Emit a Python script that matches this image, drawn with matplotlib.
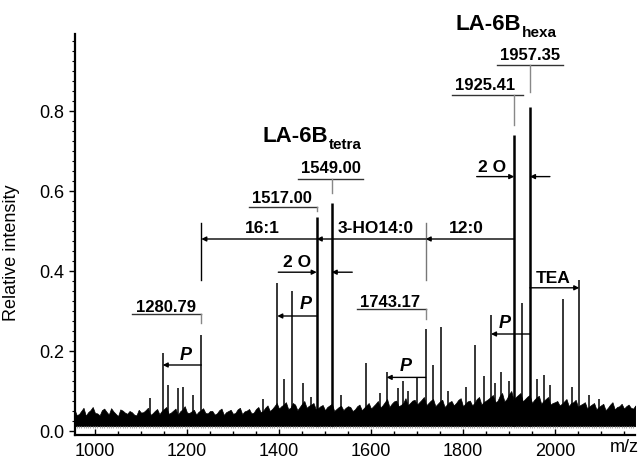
import numpy as np
import matplotlib
matplotlib.use("Agg")
import matplotlib.pyplot as plt
from matplotlib.ticker import MultipleLocator

plt.rcParams['font.family'] = ['Liberation Sans', 'DejaVu Sans']

# ---------------- data ----------------
# noise band of the spectrum: upper envelope read at 955, 965, ... and at 960, 970, ...
baseline_mz = np.arange(955, 2176, 10)
baseline_upper = [
    0.055, 0.042, 0.058, 0.047, 0.060, 0.044, 0.052, 0.048, 0.057, 0.043, 0.054, 0.046, 0.050, 0.041, 0.053,
    0.047, 0.058, 0.044, 0.055, 0.050, 0.060, 0.046, 0.056, 0.049, 0.062, 0.045, 0.053, 0.048, 0.057, 0.044,
    0.050, 0.044, 0.056, 0.047, 0.053, 0.045, 0.058, 0.049, 0.055, 0.046, 0.060, 0.050, 0.064, 0.055, 0.070,
    0.062, 0.072, 0.058, 0.066, 0.060, 0.075, 0.063, 0.070, 0.057, 0.065, 0.060, 0.068, 0.055, 0.063, 0.058,
    0.060, 0.054, 0.066, 0.058, 0.070, 0.062, 0.075, 0.064, 0.080, 0.068, 0.076, 0.065, 0.082, 0.070, 0.078,
    0.072, 0.085, 0.070, 0.080, 0.068, 0.078, 0.066, 0.075, 0.070, 0.082, 0.068, 0.076, 0.070, 0.085, 0.072,
    0.080, 0.090, 0.075, 0.095, 0.080, 0.100, 0.085, 0.095, 0.080, 0.090, 0.078, 0.088, 0.075, 0.085, 0.070,
    0.075, 0.068, 0.080, 0.070, 0.078, 0.065, 0.072, 0.062, 0.070, 0.060, 0.068, 0.058, 0.072, 0.060, 0.068,
    0.062, 0.058, 0.064,
]
baseline_mz_mid = np.arange(960, 2171, 10)
baseline_upper_mid = [
    0.040, 0.050, 0.038, 0.052, 0.045, 0.039, 0.056, 0.041, 0.049, 0.037, 0.051, 0.043, 0.047, 0.039, 0.046,
    0.052, 0.040, 0.050, 0.042, 0.055, 0.043, 0.051, 0.040, 0.054, 0.046, 0.049, 0.041, 0.052, 0.045, 0.050,
    0.041, 0.052, 0.040, 0.050, 0.043, 0.054, 0.042, 0.051, 0.044, 0.055, 0.047, 0.058, 0.050, 0.062, 0.056,
    0.066, 0.055, 0.070, 0.052, 0.068, 0.058, 0.066, 0.054, 0.062, 0.052, 0.064, 0.050, 0.060, 0.052, 0.062,
    0.050, 0.062, 0.052, 0.064, 0.056, 0.068, 0.058, 0.072, 0.060, 0.074, 0.062, 0.070, 0.064, 0.076, 0.066,
    0.078, 0.064, 0.076, 0.062, 0.074, 0.060, 0.072, 0.064, 0.078, 0.062, 0.074, 0.064, 0.080, 0.066, 0.076,
    0.085, 0.072, 0.088, 0.074, 0.092, 0.078, 0.090, 0.074, 0.086, 0.070, 0.084, 0.068, 0.080, 0.066, 0.072,
    0.064, 0.074, 0.062, 0.072, 0.060, 0.068, 0.056, 0.066, 0.054, 0.064, 0.052, 0.066, 0.054, 0.062, 0.056,
    0.066, 0.056,
]
baseline_floor = 0.012

peak_mz = [1119.6, 1147.2, 1158.0, 1179.8, 1192.0, 1212.4, 1231.1, 1365.0, 1396.3, 1410.9,
           1428.9, 1451.5, 1470.0, 1482.0, 1514.6, 1535.0, 1588.5, 1620.0, 1634.1, 1658.7,
           1668.9, 1680.0, 1699.3, 1718.9, 1735.4, 1752.2, 1766.7, 1806.5, 1826.0, 1845.7,
           1860.9, 1870.0, 1882.6, 1900.0, 1911.5, 1928.9, 1945.7, 1960.9, 1976.7, 1990.0,
           2017.4, 2036.3, 2052.8, 2075.0, 2095.0]
peak_int = [0.083, 0.196, 0.115, 0.107, 0.110, 0.090, 0.240, 0.080, 0.370, 0.130,
            0.350, 0.120, 0.085, 0.535, 0.570, 0.090, 0.170, 0.095, 0.148, 0.107,
            0.125, 0.100, 0.136, 0.254, 0.165, 0.260, 0.100, 0.110, 0.215, 0.137,
            0.290, 0.120, 0.147, 0.125, 0.740, 0.320, 0.810, 0.130, 0.140, 0.115,
            0.330, 0.110, 0.377, 0.090, 0.080]

mass_labels = ["1280.79", "1517.00", "1549.00", "1743.17", "1925.41", "1957.35"]
x_ticks = [1000, 1200, 1400, 1600, 1800, 2000]
y_ticks = [0.0, 0.2, 0.4, 0.6, 0.8]

# ---------------- figure ----------------
fig = plt.figure(figsize=(6.44, 4.61), dpi=100)
ax = fig.add_axes([75/644, 26/461, 560/644, 401/461])
ax.set_xlim(956.5, 2174)
ax.set_ylim(-0.01, 0.9925)

# noise band (two read sets combined in m/z order)
band_x = np.concatenate([baseline_mz, baseline_mz_mid])
band_y = np.concatenate([baseline_upper, baseline_upper_mid])
order = np.argsort(band_x)
band_x, band_y = band_x[order], band_y[order]
ax.fill_between(band_x, baseline_floor, band_y, color='black', lw=0.5)
ax.vlines(band_x, baseline_floor - 0.004, baseline_floor, colors='#999999', linewidths=0.6)

# peaks
pk_x = np.array(peak_mz)
pk_y = np.array(peak_int)
lws = np.where(pk_y > 0.5, 1.8, 1.1)
ax.vlines(pk_x, baseline_floor, pk_y, colors='black', linewidths=lws)

# axes styling
for s in ['top', 'right']:
    ax.spines[s].set_visible(False)
for s in ['left', 'bottom']:
    ax.spines[s].set_linewidth(1.6)
ax.set_xticks(x_ticks)
ax.set_yticks(y_ticks)
ax.set_yticklabels([f"{v:.1f}" for v in y_ticks])
ax.xaxis.set_minor_locator(MultipleLocator(50))
ax.yaxis.set_minor_locator(MultipleLocator(0.025))
ax.tick_params(axis='x', which='major', direction='in', length=4, width=1, labelsize=13, pad=6)
ax.tick_params(axis='x', which='minor', direction='in', length=3, width=1)
ax.tick_params(axis='y', which='major', direction='out', length=4, width=1, labelsize=13, pad=4)
ax.tick_params(axis='y', which='minor', direction='out', length=2.5, width=0.8)
ax.set_ylabel("Relative intensity", fontsize=13)
ax.yaxis.set_label_coords(-0.098, 0.454)
ax.annotate("m/z", xy=(1.0, 0), xycoords='axes fraction', xytext=(-8, -12.5),
            textcoords='offset points', ha='center', va='baseline', fontsize=13,
            annotation_clip=False)

def pk(i):
    return peak_mz[i]

i1280, i1517, i1549, i1743, i1925, i1957 = 6, 13, 14, 23, 34, 36
iP1, iP2, iP3, iP4, iTEA = 1, 8, 18, 30, 42

BR = dict(color='#333333', lw=1.0)
GR = dict(color='#888888', lw=1.0)

def bracket(ipk, x0, x1, ybar, ybot, label, tx, ty, vcol=GR):
    ax.plot([x0, x1], [ybar, ybar], **BR, clip_on=False)
    ax.plot([pk(ipk), pk(ipk)], [ybar, ybot], **vcol, clip_on=False)
    ax.text(tx, ty, label, ha='center', va='baseline', fontsize=12, fontweight='bold',
            clip_on=False)

bracket(i1957, 1874.6, 2018.0, 0.915, 0.8475, mass_labels[5], 1945.7, 0.9275)
bracket(i1925, 1775.4, 1931.0, 0.840, 0.765, mass_labels[4], 1848.9, 0.8525)
bracket(i1549, 1442.0, 1583.3, 0.630, 0.595, mass_labels[2], 1513.5, 0.644)
bracket(i1517, 1335.4, 1482.0, 0.561, 0.550, mass_labels[1], 1405.9, 0.571)
bracket(i1280, 1079.8, 1230.4, 0.2925, 0.270, mass_labels[0], 1153.3, 0.298)
bracket(i1743, 1568.9, 1718.9, 0.305, 0.279, mass_labels[3], 1640.6, 0.311)

def arrow(x_from, x_to, y):
    ax.annotate("", xy=(x_to, y), xytext=(x_from, y),
                arrowprops=dict(arrowstyle='-|>', color='black', lw=1.0,
                                mutation_scale=7, shrinkA=0, shrinkB=0))

def label(x, y, s, size=12.5, style='normal'):
    ax.text(x, y, s, ha='center', va='baseline', fontsize=size, fontweight='bold',
            fontstyle=style)

# fatty-acid losses
ya = 0.48
arrow(pk(i1925), pk(i1743), ya)
arrow(pk(i1743), pk(i1517), ya)
arrow(pk(i1517), pk(i1280), ya)
ax.plot([pk(i1280)]*2, [0.52, 0.3775], color='black', lw=1.0)
ax.plot([pk(i1743)]*2, [0.52, 0.3775], color='#777777', lw=1.0)
label(1808.0, 0.494, "12:0")
label(1610.9, 0.494, "3-HO14:0")
label(1363.4, 0.494, "16:1")

# 2 O
arrow(1829.8, pk(i1925), 0.636)
arrow(1989.0, pk(i1957), 0.636)
label(1863.7, 0.648, "2 O")
arrow(1398.5, pk(i1517), 0.397)
arrow(1559.3, pk(i1549), 0.397)
label(1438.4, 0.411, "2 O")

# P
arrow(pk(i1280), pk(iP1), 0.165)
label(1196.3, 0.1775, "P", 13, 'italic')
arrow(pk(i1517), pk(iP2), 0.2875)
label(1458.7, 0.304, "P", 13, 'italic')
arrow(pk(i1743), pk(iP3), 0.134)
label(1676.0, 0.150, "P", 13, 'italic')
arrow(pk(i1957), pk(iP4), 0.2425)
label(1889.6, 0.257, "P", 13, 'italic')

# TEA
arrow(pk(i1957), pk(iTEA), 0.358)
label(1995.7, 0.371, "TEA")

# titles
def title(x, y, main, sub):
    t = ax.text(x, y, main, ha='left', va='baseline', fontsize=16, fontweight='bold',
                clip_on=False)
    ax.annotate(sub, xy=(1, 0), xycoords=t, xytext=(0.5, -3.5), textcoords='offset points',
                ha='left', va='bottom', fontsize=11, fontweight='bold', annotation_clip=False)

title(1784.8, 1.0025, "LA-6B", "hexa")
title(1364.6, 0.7225, "LA-6B", "tetra")

fig.savefig("out.png", dpi=100)
